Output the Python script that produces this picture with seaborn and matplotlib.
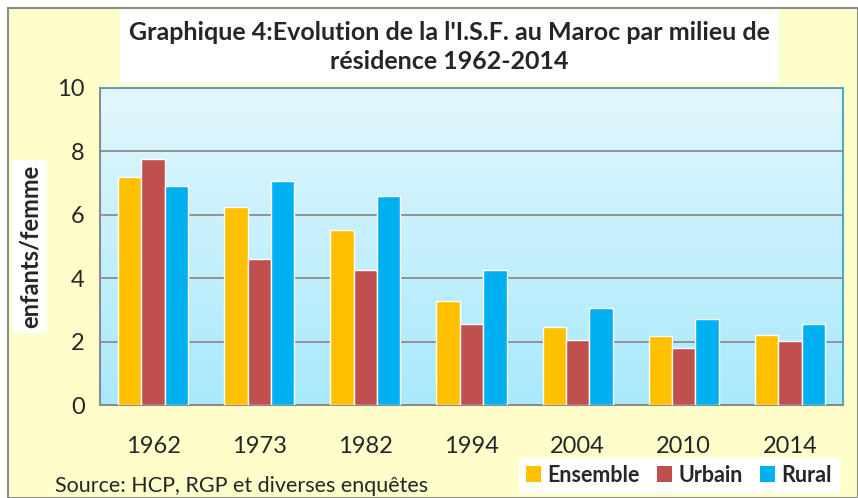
import numpy as np
import pandas as pd
import matplotlib.pyplot as plt
import seaborn as sns
from matplotlib.patches import Rectangle
from matplotlib.colors import LinearSegmentedColormap

# values
years = ["1962", "1973", "1982", "1994", "2004", "2010", "2014"]
ensemble = [7.2, 6.25, 5.52, 3.28, 2.46, 2.18, 2.2]
urbain = [7.76, 4.6, 4.27, 2.56, 2.05, 1.79, 2.02]
rural = [6.91, 7.06, 6.58, 4.25, 3.05, 2.7, 2.56]
series = ["Ensemble", "Urbain", "Rural"]
colors = ["#FFC000", "#C0504D", "#00B0F0"]

df = pd.DataFrame({"annee": years * 3,
                   "milieu": np.repeat(series, len(years)),
                   "isf": ensemble + urbain + rural})

sns.set_style("white")
plt.rcParams['font.family'] = ['Lato', 'DejaVu Sans']

fig = plt.figure(figsize=(8.58, 4.98), dpi=100)
fig.patch.set_facecolor("white")
W, H = 858, 498

# outer chart frame (light yellow with grey border)
fig.patches.append(Rectangle((8 / W, 0), 850 / W, 490 / H, transform=fig.transFigure,
                             facecolor="#FFFFCC", edgecolor="#8C8C8C", linewidth=1.5, zorder=-10))

ax = fig.add_axes([100 / W, 1 - 405 / H, 743 / W, 317 / H])
ax.set_facecolor("none")

# gradient plot area
grad = np.linspace(0, 1, 256).reshape(-1, 1)
cmap = LinearSegmentedColormap.from_list("bg", ["#A8E9FB", "#E2F7FD"])
ax.imshow(grad, aspect="auto", cmap=cmap, origin="lower", extent=[0, 1, 0, 1],
          transform=ax.transAxes, zorder=0)

sns.barplot(data=df, x="annee", y="isf", hue="milieu", palette=colors,
            width=0.66, gap=0, saturation=1, ax=ax, zorder=3, legend=False)

ax.set_ylim(0, 10)
ax.set_xlim(-0.5, len(years) - 0.5)
ax.set_yticks([0, 2, 4, 6, 8, 10])
ax.yaxis.grid(True, color="#8C8C8C", linewidth=1.3, zorder=1)
ax.set_axisbelow(False)
for gl in ax.get_ygridlines():
    gl.set_zorder(1)
ax.set_xlabel("")
ax.set_ylabel("")

# x ticks at category boundaries
ax.set_xticks(np.arange(len(years)))
ax.set_xticklabels(years)
ax.set_xticks(np.arange(-0.5, len(years)), minor=True)
ax.tick_params(axis="x", which="major", length=0, labelsize=17, pad=22)
ax.tick_params(axis="x", which="minor", length=6, width=1.3, color="#8C8C8C", direction="out")
ax.tick_params(axis="y", length=7, width=1.3, color="#8C8C8C", labelsize=17, pad=4, direction="out")

for side in ["left", "bottom"]:
    ax.spines[side].set_color("#8C8C8C")
    ax.spines[side].set_linewidth(1.5)
for side in ["top", "right"]:
    ax.spines[side].set_color("#4BACC6")
    ax.spines[side].set_linewidth(1.5)

# title in white box
fig.patches.append(Rectangle((120 / W, 1 - 83 / H), 659 / W, 73 / H, transform=fig.transFigure,
                             facecolor="white", edgecolor="none", zorder=1))
fig.text(449 / W, 1 - 47 / H, "Graphique 4:Evolution de la l'I.S.F. au Maroc par milieu de\nrésidence 1962-2014",
         ha="center", va="center", fontsize=18, fontweight="bold", linespacing=1.3, zorder=2)

# y label in white box
fig.patches.append(Rectangle((12 / W, 1 - 333 / H), 35 / W, 173 / H, transform=fig.transFigure,
                             facecolor="white", edgecolor="none", zorder=1))
fig.text(30 / W, 1 - 246 / H, "enfants/femme", rotation=90, ha="center", va="center",
         fontsize=17, fontweight="bold", zorder=2)

# source
fig.text(55 / W, 1 - 486 / H, "Source: HCP, RGP et diverses enquêtes", ha="left", va="center",
         fontsize=15.5)

# legend
handles = [Rectangle((0, 0), 1, 1, facecolor=c, edgecolor="none") for c in colors]
leg = fig.legend(handles, series, ncol=3, loc="center", bbox_to_anchor=(679 / W, 1 - 475 / H),
                 frameon=True, fancybox=False, framealpha=1, edgecolor="white",
                 prop={"weight": "bold", "size": 15.5}, handlelength=0.7, handleheight=0.7,
                 handletextpad=0.3, columnspacing=0.8, borderpad=0.3)

fig.savefig("out.png", dpi=100)
